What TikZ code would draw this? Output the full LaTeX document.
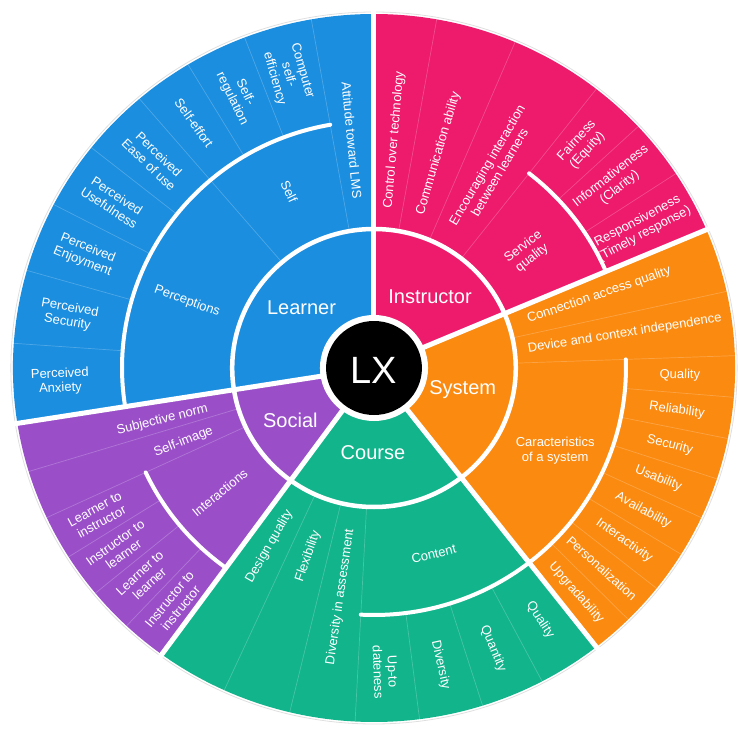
\documentclass[tikz,border=0pt]{standalone}
\usepackage{fontspec}
\setmainfont{Liberation Sans}
\definecolor{cLearner}{HTML}{1B8EDF}
\definecolor{cInstr}{HTML}{EE1A6C}
\definecolor{cSystem}{HTML}{FB8A10}
\definecolor{cCourse}{HTML}{12B48C}
\definecolor{cSocial}{HTML}{9A4FC9}
\tikzset{
  lbl/.style={text=white, font=\fontsize{13}{14.5}\selectfont, align=center, inner sep=0pt},
  big/.style={text=white, font=\fontsize{20}{22}\selectfont, inner sep=0pt},
  sepline/.style={draw=white, draw opacity=0.22, line width=0.7pt},
  majorline/.style={draw=white, line width=5pt},
  ringarc/.style={draw=white, line width=4pt, line cap=round}
}
\begin{document}
\begin{tikzpicture}[x=1pt,y=1pt]
\useasboundingbox (-374,-361) rectangle (366,368);
\begin{scope}[xscale=1.02]
  % sector fills
  \foreach \c/\a/\b in {cLearner/90/189, cSocial/189/234, cCourse/234/308, cSystem/308/383, cInstr/383/450}
    \fill[\c] (0,0) -- (\a:354) arc[start angle=\a, end angle=\b, radius=354] -- cycle;
  \draw[gray!25, line width=0.8pt] (0,0) circle (356);
  % thin separators spanning middle and outer rings
  \foreach \a in {100,130.5,80,67,52,12.5,2,245.5,256.5,267,197,205}
    \draw[sepline] (\a:139) -- (\a:354);
  % thin separators in outer ring
  \foreach \a in {111,121,141.5,152.5,164,176,43,33.3,-4.75,-11.5,-18.25,-25,-31.75,-38.5,-45.25,277.25,287.5,297.75,212.25,219.5,226.75}
    \draw[sepline] (\a:247) -- (\a:354);
  % white arcs between middle and outer ring
  \draw[ringarc] (100:247) arc[start angle=100, end angle=189, radius=247];
  \draw[ringarc] (23:247) arc[start angle=23, end angle=52, radius=247];
  \draw[ringarc] (-52:247) arc[start angle=-52, end angle=2, radius=247];
  \draw[ringarc] (267:247) arc[start angle=267, end angle=308, radius=247];
  \draw[ringarc] (205:247) arc[start angle=205, end angle=234, radius=247];
  % inner ring circle
  \draw[white, line width=4.5pt] (0,0) circle (139);
  % major separators
  \foreach \a in {90,189,234,308,23}
    \draw[majorline] (0,0) -- (\a:358);
  % center
  \fill[white] (0,0) circle (53);
  \fill[black] (0,0) circle (47);
  \node[text=white, font=\fontsize{38}{40}\selectfont, inner sep=0pt] (lx) at (0,-2) {LX};

  % inner ring labels
  \node[big] (learner) at (-71,60) {Learner};
  \node[big] (instructor) at (55,71) {Instructor};
  \node[big] (system) at (87,-22) {System};
  \node[big] (course) at (-1,-85) {Course};
  \node[big] (social) at (-82,-52) {Social};

  % Learner
  \node[lbl, rotate=-84.5, anchor=east] (att) at (95.5:170) {Attitude toward LMS};
  \node[lbl, rotate=-64.75] (self) at (115.25:195) {Self};
  \node[lbl, rotate=-20] (perc) at (160:195) {Perceptions};
  \node[lbl, rotate=-74] (cse) at (106:305) {Computer\\self-\\efficiency};
  \node[lbl, rotate=-64] (sreg) at (116:303) {Self-\\regulation};
  \node[lbl, rotate=-54.25] (seff) at (125.75:302) {Self-effort};
  \node[lbl, rotate=-44] (peou) at (136:300) {Perceived\\Ease of use};
  \node[lbl, rotate=-33] (pu) at (147:305) {Perceived\\Usefulness};
  \node[lbl, rotate=-21.8] (pe) at (158.2:305) {Perceived\\Enjoyment};
  \node[lbl, rotate=-10] (ps) at (170:304) {Perceived\\Security};
  \node[lbl, rotate=2.5] (pa) at (182.5:308) {Perceived\\Anxiety};

  % Instructor
  \node[lbl, rotate=85, anchor=west] (cot) at (85:160) {Control over technology};
  \node[lbl, rotate=73.5, anchor=west] (comm) at (73.5:160) {Communication ability};
  \node[lbl, rotate=59.5, anchor=west] (enc) at (59.5:163) {Encouraging interaction\\between learners};
  \node[lbl, rotate=37.5] (sq) at (37.5:190) {Service\\quality};
  \node[lbl, rotate=47.5] (fair) at (47.5:302) {Fairness\\(Equity)};
  \node[lbl, rotate=38.2] (info) at (38.2:301) {Informativeness\\(Clarity)};
  \node[lbl, rotate=28.2] (resp) at (28.2:297) {Responsiveness\\(Timely response)};

  % System
  \node[lbl, rotate=19, anchor=west] (conn) at (17.75:158) {Connection access quality};
  \node[lbl, rotate=9, anchor=west] (dev) at (7.25:152) {Device and context independence};
  \node[lbl] (char) at (-25:196) {Caracteristics\\of a system};
  \node[lbl, rotate=-1.4] (squal) at (-1.375:300) {Quality};
  \node[lbl, rotate=-8.1] (srel) at (-8.125:300) {Reliability};
  \node[lbl, rotate=-14.9] (ssec) at (-14.875:300) {Security};
  \node[lbl, rotate=-21.6] (susa) at (-21.625:300) {Usability};
  \node[lbl, rotate=-28.4] (savl) at (-28.375:300) {Availability};
  \node[lbl, rotate=-35.1] (sint) at (-35.125:300) {Interactivity};
  \node[lbl, rotate=-41.9] (spers) at (-41.875:300) {Personalization};
  \node[lbl, rotate=-48.6] (supg) at (-48.625:300) {Upgradability};

  % Course
  \node[lbl, rotate=60, anchor=east] (dq) at (240:165) {Design quality};
  \node[lbl, rotate=71, anchor=east] (flex) at (251:172) {Flexibility};
  \node[lbl, rotate=81.75, anchor=east] (dia) at (261.75:163) {Diversity in assessment};
  \node[lbl, rotate=14] (content) at (287.5:195) {Content};
  \node[lbl, rotate=272.1] (upto) at (272.1:304) {Up-to\\dateness};
  \node[lbl, rotate=282.4] (cdiv) at (282.4:304) {Diversity};
  \node[lbl, rotate=292.6] (cquan) at (292.6:304) {Quantity};
  \node[lbl, rotate=302.9] (cqual) at (302.9:300) {Quality};

  % Social
  \node[lbl, rotate=14, anchor=east] (subj) at (194:168) {Subjective norm};
  \node[lbl, rotate=21.5, anchor=east] (simg) at (201.5:170) {Self-image};
  \node[lbl, rotate=39.5] (inter) at (219.5:196) {Interactions};
  \node[lbl, rotate=28.6] (lti) at (208.6:308) {Learner to\\instructor};
  \node[lbl, rotate=35.9] (itl) at (215.9:308) {Instructor to\\learner};
  \node[lbl, rotate=43.1] (ltl) at (223.1:308) {Learner to\\learner};
  \node[lbl, rotate=50.4] (iti) at (230.4:306) {Instructor to\\instructor};
\end{scope}
\end{tikzpicture}
\end{document}
